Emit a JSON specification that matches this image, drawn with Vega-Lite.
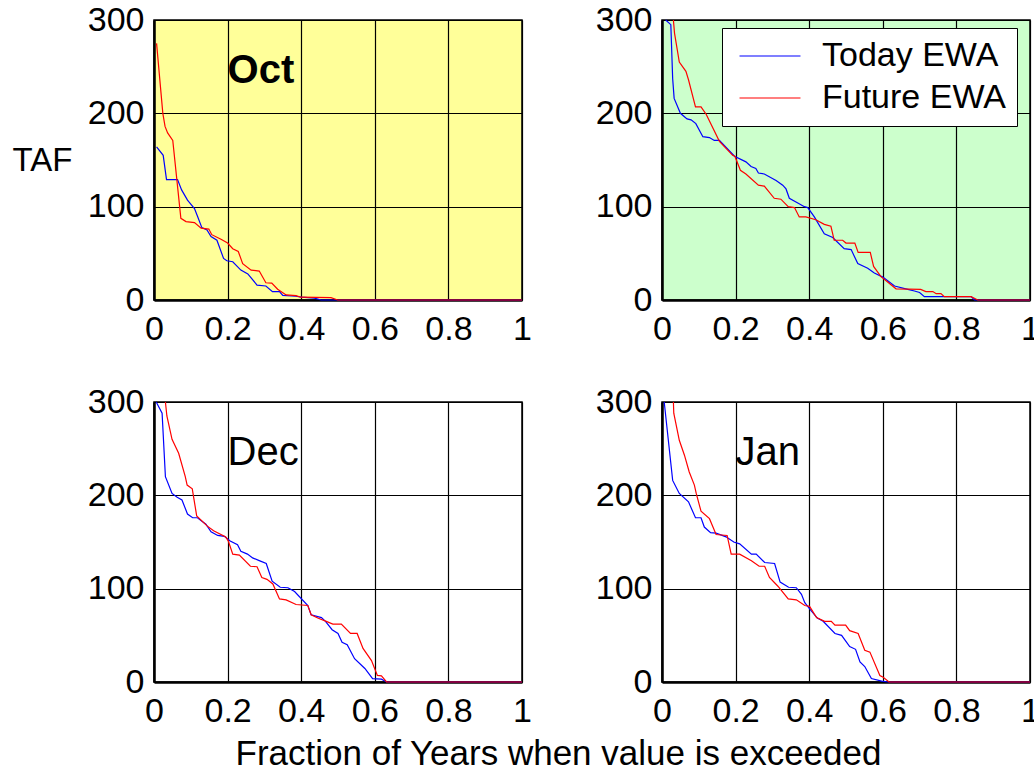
{
  "$schema": "https://vega.github.io/schema/vega-lite/v6.json",
  "background": "white",
  "padding": {"left": 11, "top": 2, "right": 0, "bottom": 0},
  "config": {
    "font": "Liberation Sans",
    "view": {"stroke": "black", "strokeWidth": 1.5},
    "axis": {
      "grid": true, "gridColor": "black", "gridOpacity": 1, "gridWidth": 1.2,
      "domain": true, "domainColor": "black", "domainWidth": 2.5,
      "ticks": false, "tickSize": 0,
      "labelFontSize": 34, "labelColor": "black", "labelPadding": 10,
      "labelFlush": false, "labelBound": false, "labelOverlap": false,
      "title": null
    },
    "axisX": {"labelPadding": 12},
    "line": {"strokeWidth": 1.2, "clip": true}
  },
  "datasets": {
    "ewa": [
      {"m": "Oct", "s": "Today EWA", "x": 0.007, "y": 164},
      {"m": "Oct", "s": "Today EWA", "x": 0.025, "y": 155},
      {"m": "Oct", "s": "Today EWA", "x": 0.034, "y": 129},
      {"m": "Oct", "s": "Today EWA", "x": 0.064, "y": 129},
      {"m": "Oct", "s": "Today EWA", "x": 0.075, "y": 118},
      {"m": "Oct", "s": "Today EWA", "x": 0.091, "y": 107},
      {"m": "Oct", "s": "Today EWA", "x": 0.110, "y": 98},
      {"m": "Oct", "s": "Today EWA", "x": 0.119, "y": 89},
      {"m": "Oct", "s": "Today EWA", "x": 0.130, "y": 77.5},
      {"m": "Oct", "s": "Today EWA", "x": 0.144, "y": 75},
      {"m": "Oct", "s": "Today EWA", "x": 0.155, "y": 68},
      {"m": "Oct", "s": "Today EWA", "x": 0.171, "y": 64},
      {"m": "Oct", "s": "Today EWA", "x": 0.189, "y": 44.6},
      {"m": "Oct", "s": "Today EWA", "x": 0.198, "y": 42},
      {"m": "Oct", "s": "Today EWA", "x": 0.214, "y": 41},
      {"m": "Oct", "s": "Today EWA", "x": 0.236, "y": 32},
      {"m": "Oct", "s": "Today EWA", "x": 0.255, "y": 28},
      {"m": "Oct", "s": "Today EWA", "x": 0.280, "y": 16},
      {"m": "Oct", "s": "Today EWA", "x": 0.304, "y": 15},
      {"m": "Oct", "s": "Today EWA", "x": 0.322, "y": 9},
      {"m": "Oct", "s": "Today EWA", "x": 0.341, "y": 9},
      {"m": "Oct", "s": "Today EWA", "x": 0.350, "y": 5},
      {"m": "Oct", "s": "Today EWA", "x": 0.386, "y": 4},
      {"m": "Oct", "s": "Today EWA", "x": 0.400, "y": 3},
      {"m": "Oct", "s": "Today EWA", "x": 0.436, "y": 2},
      {"m": "Oct", "s": "Today EWA", "x": 0.454, "y": 0},
      {"m": "Oct", "s": "Today EWA", "x": 1.0, "y": 0},

      {"m": "Nov", "s": "Today EWA", "x": 0.010, "y": 300},
      {"m": "Nov", "s": "Today EWA", "x": 0.024, "y": 295},
      {"m": "Nov", "s": "Today EWA", "x": 0.029, "y": 237},
      {"m": "Nov", "s": "Today EWA", "x": 0.033, "y": 216},
      {"m": "Nov", "s": "Today EWA", "x": 0.050, "y": 200},
      {"m": "Nov", "s": "Today EWA", "x": 0.068, "y": 194},
      {"m": "Nov", "s": "Today EWA", "x": 0.079, "y": 193},
      {"m": "Nov", "s": "Today EWA", "x": 0.092, "y": 189},
      {"m": "Nov", "s": "Today EWA", "x": 0.111, "y": 175},
      {"m": "Nov", "s": "Today EWA", "x": 0.129, "y": 174},
      {"m": "Nov", "s": "Today EWA", "x": 0.142, "y": 171},
      {"m": "Nov", "s": "Today EWA", "x": 0.156, "y": 171},
      {"m": "Nov", "s": "Today EWA", "x": 0.197, "y": 154},
      {"m": "Nov", "s": "Today EWA", "x": 0.228, "y": 148},
      {"m": "Nov", "s": "Today EWA", "x": 0.242, "y": 143},
      {"m": "Nov", "s": "Today EWA", "x": 0.255, "y": 141},
      {"m": "Nov", "s": "Today EWA", "x": 0.262, "y": 136},
      {"m": "Nov", "s": "Today EWA", "x": 0.278, "y": 135},
      {"m": "Nov", "s": "Today EWA", "x": 0.310, "y": 128},
      {"m": "Nov", "s": "Today EWA", "x": 0.328, "y": 123},
      {"m": "Nov", "s": "Today EWA", "x": 0.337, "y": 119},
      {"m": "Nov", "s": "Today EWA", "x": 0.346, "y": 109},
      {"m": "Nov", "s": "Today EWA", "x": 0.369, "y": 104},
      {"m": "Nov", "s": "Today EWA", "x": 0.387, "y": 100},
      {"m": "Nov", "s": "Today EWA", "x": 0.396, "y": 99},
      {"m": "Nov", "s": "Today EWA", "x": 0.414, "y": 89},
      {"m": "Nov", "s": "Today EWA", "x": 0.441, "y": 71},
      {"m": "Nov", "s": "Today EWA", "x": 0.464, "y": 67},
      {"m": "Nov", "s": "Today EWA", "x": 0.495, "y": 55},
      {"m": "Nov", "s": "Today EWA", "x": 0.514, "y": 54},
      {"m": "Nov", "s": "Today EWA", "x": 0.532, "y": 39},
      {"m": "Nov", "s": "Today EWA", "x": 0.559, "y": 34},
      {"m": "Nov", "s": "Today EWA", "x": 0.577, "y": 29},
      {"m": "Nov", "s": "Today EWA", "x": 0.600, "y": 24.5},
      {"m": "Nov", "s": "Today EWA", "x": 0.632, "y": 15},
      {"m": "Nov", "s": "Today EWA", "x": 0.668, "y": 11.4},
      {"m": "Nov", "s": "Today EWA", "x": 0.686, "y": 9.6},
      {"m": "Nov", "s": "Today EWA", "x": 0.700, "y": 8},
      {"m": "Nov", "s": "Today EWA", "x": 0.713, "y": 3.6},
      {"m": "Nov", "s": "Today EWA", "x": 0.840, "y": 3.6},
      {"m": "Nov", "s": "Today EWA", "x": 0.849, "y": 0},
      {"m": "Nov", "s": "Today EWA", "x": 1.0, "y": 0},

      {"m": "Dec", "s": "Today EWA", "x": 0.006, "y": 300},
      {"m": "Dec", "s": "Today EWA", "x": 0.022, "y": 288},
      {"m": "Dec", "s": "Today EWA", "x": 0.031, "y": 220},
      {"m": "Dec", "s": "Today EWA", "x": 0.049, "y": 202},
      {"m": "Dec", "s": "Today EWA", "x": 0.063, "y": 198},
      {"m": "Dec", "s": "Today EWA", "x": 0.076, "y": 195},
      {"m": "Dec", "s": "Today EWA", "x": 0.091, "y": 180},
      {"m": "Dec", "s": "Today EWA", "x": 0.105, "y": 176},
      {"m": "Dec", "s": "Today EWA", "x": 0.118, "y": 176},
      {"m": "Dec", "s": "Today EWA", "x": 0.141, "y": 169},
      {"m": "Dec", "s": "Today EWA", "x": 0.155, "y": 161},
      {"m": "Dec", "s": "Today EWA", "x": 0.173, "y": 157},
      {"m": "Dec", "s": "Today EWA", "x": 0.191, "y": 156},
      {"m": "Dec", "s": "Today EWA", "x": 0.207, "y": 151},
      {"m": "Dec", "s": "Today EWA", "x": 0.227, "y": 147},
      {"m": "Dec", "s": "Today EWA", "x": 0.236, "y": 140},
      {"m": "Dec", "s": "Today EWA", "x": 0.254, "y": 137},
      {"m": "Dec", "s": "Today EWA", "x": 0.268, "y": 133},
      {"m": "Dec", "s": "Today EWA", "x": 0.286, "y": 130},
      {"m": "Dec", "s": "Today EWA", "x": 0.305, "y": 127},
      {"m": "Dec", "s": "Today EWA", "x": 0.321, "y": 108},
      {"m": "Dec", "s": "Today EWA", "x": 0.343, "y": 101.5},
      {"m": "Dec", "s": "Today EWA", "x": 0.364, "y": 101},
      {"m": "Dec", "s": "Today EWA", "x": 0.382, "y": 97},
      {"m": "Dec", "s": "Today EWA", "x": 0.418, "y": 82},
      {"m": "Dec", "s": "Today EWA", "x": 0.427, "y": 72},
      {"m": "Dec", "s": "Today EWA", "x": 0.455, "y": 69},
      {"m": "Dec", "s": "Today EWA", "x": 0.466, "y": 65},
      {"m": "Dec", "s": "Today EWA", "x": 0.484, "y": 56},
      {"m": "Dec", "s": "Today EWA", "x": 0.500, "y": 52},
      {"m": "Dec", "s": "Today EWA", "x": 0.511, "y": 42.5},
      {"m": "Dec", "s": "Today EWA", "x": 0.525, "y": 40},
      {"m": "Dec", "s": "Today EWA", "x": 0.545, "y": 25},
      {"m": "Dec", "s": "Today EWA", "x": 0.573, "y": 14.5},
      {"m": "Dec", "s": "Today EWA", "x": 0.594, "y": 3.7},
      {"m": "Dec", "s": "Today EWA", "x": 0.618, "y": 3},
      {"m": "Dec", "s": "Today EWA", "x": 0.632, "y": 0},
      {"m": "Dec", "s": "Today EWA", "x": 1.0, "y": 0},

      {"m": "Jan", "s": "Today EWA", "x": 0.006, "y": 300},
      {"m": "Jan", "s": "Today EWA", "x": 0.029, "y": 216},
      {"m": "Jan", "s": "Today EWA", "x": 0.047, "y": 202},
      {"m": "Jan", "s": "Today EWA", "x": 0.072, "y": 193},
      {"m": "Jan", "s": "Today EWA", "x": 0.091, "y": 176},
      {"m": "Jan", "s": "Today EWA", "x": 0.106, "y": 176},
      {"m": "Jan", "s": "Today EWA", "x": 0.115, "y": 166},
      {"m": "Jan", "s": "Today EWA", "x": 0.132, "y": 160},
      {"m": "Jan", "s": "Today EWA", "x": 0.147, "y": 159.5},
      {"m": "Jan", "s": "Today EWA", "x": 0.174, "y": 155.5},
      {"m": "Jan", "s": "Today EWA", "x": 0.195, "y": 150},
      {"m": "Jan", "s": "Today EWA", "x": 0.211, "y": 148},
      {"m": "Jan", "s": "Today EWA", "x": 0.243, "y": 137},
      {"m": "Jan", "s": "Today EWA", "x": 0.256, "y": 137},
      {"m": "Jan", "s": "Today EWA", "x": 0.279, "y": 128},
      {"m": "Jan", "s": "Today EWA", "x": 0.306, "y": 127},
      {"m": "Jan", "s": "Today EWA", "x": 0.321, "y": 107},
      {"m": "Jan", "s": "Today EWA", "x": 0.344, "y": 101.5},
      {"m": "Jan", "s": "Today EWA", "x": 0.365, "y": 101},
      {"m": "Jan", "s": "Today EWA", "x": 0.379, "y": 94},
      {"m": "Jan", "s": "Today EWA", "x": 0.388, "y": 85},
      {"m": "Jan", "s": "Today EWA", "x": 0.404, "y": 77},
      {"m": "Jan", "s": "Today EWA", "x": 0.422, "y": 68.5},
      {"m": "Jan", "s": "Today EWA", "x": 0.438, "y": 65},
      {"m": "Jan", "s": "Today EWA", "x": 0.470, "y": 52},
      {"m": "Jan", "s": "Today EWA", "x": 0.488, "y": 50},
      {"m": "Jan", "s": "Today EWA", "x": 0.510, "y": 38},
      {"m": "Jan", "s": "Today EWA", "x": 0.526, "y": 35},
      {"m": "Jan", "s": "Today EWA", "x": 0.538, "y": 21.6},
      {"m": "Jan", "s": "Today EWA", "x": 0.551, "y": 16.6},
      {"m": "Jan", "s": "Today EWA", "x": 0.569, "y": 3.7},
      {"m": "Jan", "s": "Today EWA", "x": 0.597, "y": 1},
      {"m": "Jan", "s": "Today EWA", "x": 0.615, "y": 0},
      {"m": "Jan", "s": "Today EWA", "x": 1.0, "y": 0},

      {"m": "Oct", "s": "Future EWA", "x": 0.007, "y": 275},
      {"m": "Oct", "s": "Future EWA", "x": 0.024, "y": 200},
      {"m": "Oct", "s": "Future EWA", "x": 0.030, "y": 186},
      {"m": "Oct", "s": "Future EWA", "x": 0.037, "y": 179},
      {"m": "Oct", "s": "Future EWA", "x": 0.051, "y": 171},
      {"m": "Oct", "s": "Future EWA", "x": 0.073, "y": 87.5},
      {"m": "Oct", "s": "Future EWA", "x": 0.087, "y": 84},
      {"m": "Oct", "s": "Future EWA", "x": 0.110, "y": 83},
      {"m": "Oct", "s": "Future EWA", "x": 0.128, "y": 77},
      {"m": "Oct", "s": "Future EWA", "x": 0.149, "y": 76},
      {"m": "Oct", "s": "Future EWA", "x": 0.157, "y": 70},
      {"m": "Oct", "s": "Future EWA", "x": 0.182, "y": 65},
      {"m": "Oct", "s": "Future EWA", "x": 0.200, "y": 61},
      {"m": "Oct", "s": "Future EWA", "x": 0.214, "y": 55},
      {"m": "Oct", "s": "Future EWA", "x": 0.229, "y": 52},
      {"m": "Oct", "s": "Future EWA", "x": 0.241, "y": 39},
      {"m": "Oct", "s": "Future EWA", "x": 0.264, "y": 32},
      {"m": "Oct", "s": "Future EWA", "x": 0.286, "y": 31},
      {"m": "Oct", "s": "Future EWA", "x": 0.304, "y": 18.5},
      {"m": "Oct", "s": "Future EWA", "x": 0.320, "y": 18},
      {"m": "Oct", "s": "Future EWA", "x": 0.336, "y": 11.5},
      {"m": "Oct", "s": "Future EWA", "x": 0.359, "y": 5.4},
      {"m": "Oct", "s": "Future EWA", "x": 0.386, "y": 4.6},
      {"m": "Oct", "s": "Future EWA", "x": 0.399, "y": 3},
      {"m": "Oct", "s": "Future EWA", "x": 0.481, "y": 2.5},
      {"m": "Oct", "s": "Future EWA", "x": 0.499, "y": 0},
      {"m": "Oct", "s": "Future EWA", "x": 1.0, "y": 0},

      {"m": "Nov", "s": "Future EWA", "x": 0.031, "y": 300},
      {"m": "Nov", "s": "Future EWA", "x": 0.034, "y": 286},
      {"m": "Nov", "s": "Future EWA", "x": 0.047, "y": 255},
      {"m": "Nov", "s": "Future EWA", "x": 0.065, "y": 245},
      {"m": "Nov", "s": "Future EWA", "x": 0.072, "y": 236},
      {"m": "Nov", "s": "Future EWA", "x": 0.091, "y": 207},
      {"m": "Nov", "s": "Future EWA", "x": 0.106, "y": 207},
      {"m": "Nov", "s": "Future EWA", "x": 0.120, "y": 199},
      {"m": "Nov", "s": "Future EWA", "x": 0.156, "y": 170},
      {"m": "Nov", "s": "Future EWA", "x": 0.192, "y": 155},
      {"m": "Nov", "s": "Future EWA", "x": 0.198, "y": 154},
      {"m": "Nov", "s": "Future EWA", "x": 0.213, "y": 139},
      {"m": "Nov", "s": "Future EWA", "x": 0.228, "y": 135},
      {"m": "Nov", "s": "Future EWA", "x": 0.262, "y": 123},
      {"m": "Nov", "s": "Future EWA", "x": 0.278, "y": 122},
      {"m": "Nov", "s": "Future EWA", "x": 0.305, "y": 109},
      {"m": "Nov", "s": "Future EWA", "x": 0.323, "y": 108},
      {"m": "Nov", "s": "Future EWA", "x": 0.343, "y": 100},
      {"m": "Nov", "s": "Future EWA", "x": 0.360, "y": 99},
      {"m": "Nov", "s": "Future EWA", "x": 0.373, "y": 89},
      {"m": "Nov", "s": "Future EWA", "x": 0.391, "y": 89},
      {"m": "Nov", "s": "Future EWA", "x": 0.418, "y": 86},
      {"m": "Nov", "s": "Future EWA", "x": 0.441, "y": 81},
      {"m": "Nov", "s": "Future EWA", "x": 0.459, "y": 79},
      {"m": "Nov", "s": "Future EWA", "x": 0.468, "y": 64},
      {"m": "Nov", "s": "Future EWA", "x": 0.491, "y": 64},
      {"m": "Nov", "s": "Future EWA", "x": 0.500, "y": 61},
      {"m": "Nov", "s": "Future EWA", "x": 0.524, "y": 61},
      {"m": "Nov", "s": "Future EWA", "x": 0.533, "y": 51},
      {"m": "Nov", "s": "Future EWA", "x": 0.566, "y": 51},
      {"m": "Nov", "s": "Future EWA", "x": 0.575, "y": 36},
      {"m": "Nov", "s": "Future EWA", "x": 0.595, "y": 25},
      {"m": "Nov", "s": "Future EWA", "x": 0.636, "y": 12},
      {"m": "Nov", "s": "Future EWA", "x": 0.703, "y": 11.4},
      {"m": "Nov", "s": "Future EWA", "x": 0.717, "y": 9},
      {"m": "Nov", "s": "Future EWA", "x": 0.736, "y": 9},
      {"m": "Nov", "s": "Future EWA", "x": 0.745, "y": 6.8},
      {"m": "Nov", "s": "Future EWA", "x": 0.758, "y": 6.8},
      {"m": "Nov", "s": "Future EWA", "x": 0.767, "y": 3.6},
      {"m": "Nov", "s": "Future EWA", "x": 0.840, "y": 3.6},
      {"m": "Nov", "s": "Future EWA", "x": 0.858, "y": 0},
      {"m": "Nov", "s": "Future EWA", "x": 1.0, "y": 0},

      {"m": "Dec", "s": "Future EWA", "x": 0.031, "y": 300},
      {"m": "Dec", "s": "Future EWA", "x": 0.035, "y": 285},
      {"m": "Dec", "s": "Future EWA", "x": 0.049, "y": 260},
      {"m": "Dec", "s": "Future EWA", "x": 0.067, "y": 245},
      {"m": "Dec", "s": "Future EWA", "x": 0.085, "y": 220},
      {"m": "Dec", "s": "Future EWA", "x": 0.090, "y": 211},
      {"m": "Dec", "s": "Future EWA", "x": 0.104, "y": 207},
      {"m": "Dec", "s": "Future EWA", "x": 0.116, "y": 178},
      {"m": "Dec", "s": "Future EWA", "x": 0.145, "y": 167},
      {"m": "Dec", "s": "Future EWA", "x": 0.162, "y": 162},
      {"m": "Dec", "s": "Future EWA", "x": 0.195, "y": 155.5},
      {"m": "Dec", "s": "Future EWA", "x": 0.202, "y": 151},
      {"m": "Dec", "s": "Future EWA", "x": 0.214, "y": 137},
      {"m": "Dec", "s": "Future EWA", "x": 0.232, "y": 136},
      {"m": "Dec", "s": "Future EWA", "x": 0.262, "y": 124},
      {"m": "Dec", "s": "Future EWA", "x": 0.280, "y": 123.5},
      {"m": "Dec", "s": "Future EWA", "x": 0.293, "y": 112},
      {"m": "Dec", "s": "Future EWA", "x": 0.307, "y": 110},
      {"m": "Dec", "s": "Future EWA", "x": 0.323, "y": 105},
      {"m": "Dec", "s": "Future EWA", "x": 0.341, "y": 89},
      {"m": "Dec", "s": "Future EWA", "x": 0.359, "y": 88},
      {"m": "Dec", "s": "Future EWA", "x": 0.386, "y": 83},
      {"m": "Dec", "s": "Future EWA", "x": 0.418, "y": 82},
      {"m": "Dec", "s": "Future EWA", "x": 0.427, "y": 72},
      {"m": "Dec", "s": "Future EWA", "x": 0.445, "y": 68.5},
      {"m": "Dec", "s": "Future EWA", "x": 0.468, "y": 65},
      {"m": "Dec", "s": "Future EWA", "x": 0.486, "y": 62},
      {"m": "Dec", "s": "Future EWA", "x": 0.509, "y": 62},
      {"m": "Dec", "s": "Future EWA", "x": 0.534, "y": 52},
      {"m": "Dec", "s": "Future EWA", "x": 0.552, "y": 52},
      {"m": "Dec", "s": "Future EWA", "x": 0.568, "y": 36},
      {"m": "Dec", "s": "Future EWA", "x": 0.591, "y": 23},
      {"m": "Dec", "s": "Future EWA", "x": 0.607, "y": 7},
      {"m": "Dec", "s": "Future EWA", "x": 0.618, "y": 6.5},
      {"m": "Dec", "s": "Future EWA", "x": 0.632, "y": 0},
      {"m": "Dec", "s": "Future EWA", "x": 1.0, "y": 0},

      {"m": "Jan", "s": "Future EWA", "x": 0.031, "y": 300},
      {"m": "Jan", "s": "Future EWA", "x": 0.032, "y": 288},
      {"m": "Jan", "s": "Future EWA", "x": 0.047, "y": 259},
      {"m": "Jan", "s": "Future EWA", "x": 0.061, "y": 243},
      {"m": "Jan", "s": "Future EWA", "x": 0.074, "y": 225},
      {"m": "Jan", "s": "Future EWA", "x": 0.088, "y": 211},
      {"m": "Jan", "s": "Future EWA", "x": 0.093, "y": 202},
      {"m": "Jan", "s": "Future EWA", "x": 0.106, "y": 183},
      {"m": "Jan", "s": "Future EWA", "x": 0.129, "y": 175},
      {"m": "Jan", "s": "Future EWA", "x": 0.147, "y": 158},
      {"m": "Jan", "s": "Future EWA", "x": 0.177, "y": 157},
      {"m": "Jan", "s": "Future EWA", "x": 0.188, "y": 137},
      {"m": "Jan", "s": "Future EWA", "x": 0.211, "y": 137},
      {"m": "Jan", "s": "Future EWA", "x": 0.243, "y": 130},
      {"m": "Jan", "s": "Future EWA", "x": 0.264, "y": 124},
      {"m": "Jan", "s": "Future EWA", "x": 0.279, "y": 124},
      {"m": "Jan", "s": "Future EWA", "x": 0.292, "y": 112},
      {"m": "Jan", "s": "Future EWA", "x": 0.315, "y": 102.6},
      {"m": "Jan", "s": "Future EWA", "x": 0.343, "y": 89},
      {"m": "Jan", "s": "Future EWA", "x": 0.365, "y": 88},
      {"m": "Jan", "s": "Future EWA", "x": 0.388, "y": 82},
      {"m": "Jan", "s": "Future EWA", "x": 0.401, "y": 81},
      {"m": "Jan", "s": "Future EWA", "x": 0.420, "y": 69},
      {"m": "Jan", "s": "Future EWA", "x": 0.442, "y": 65},
      {"m": "Jan", "s": "Future EWA", "x": 0.460, "y": 65},
      {"m": "Jan", "s": "Future EWA", "x": 0.470, "y": 61},
      {"m": "Jan", "s": "Future EWA", "x": 0.499, "y": 61},
      {"m": "Jan", "s": "Future EWA", "x": 0.510, "y": 55},
      {"m": "Jan", "s": "Future EWA", "x": 0.533, "y": 52},
      {"m": "Jan", "s": "Future EWA", "x": 0.551, "y": 34},
      {"m": "Jan", "s": "Future EWA", "x": 0.565, "y": 32},
      {"m": "Jan", "s": "Future EWA", "x": 0.592, "y": 7},
      {"m": "Jan", "s": "Future EWA", "x": 0.601, "y": 5},
      {"m": "Jan", "s": "Future EWA", "x": 0.617, "y": 0},
      {"m": "Jan", "s": "Future EWA", "x": 1.0, "y": 0}
    ]
  },
  "columns": 2,
  "spacing": {"row": 102, "column": 140},
  "bounds": "flush",
  "resolve": {"scale": {"color": "independent"}, "legend": {"color": "independent"}},
  "concat": [
    {
      "width": 368, "height": 280,
      "view": {"fill": "#FFFF99"},
      "layer": [
        {
          "data": {"name": "ewa"},
          "transform": [{"filter": "datum.m === 'Oct'"}],
          "mark": "line",
          "encoding": {
            "x": {"field": "x", "type": "quantitative", "scale": {"domain": [0, 1], "nice": false},
                  "axis": {"values": [0, 0.2, 0.4, 0.6, 0.8, 1], "format": "~g"}},
            "y": {"field": "y", "type": "quantitative", "scale": {"domain": [0, 300], "nice": false},
                  "axis": {"values": [0, 100, 200, 300],
                           "title": "TAF", "titleAngle": 0, "titleFontSize": 33, "titleFontWeight": "normal",
                           "titleColor": "black", "titleAlign": "left", "titleBaseline": "middle",
                           "titleX": -142, "titleY": 140}},
            "color": {"field": "s", "type": "nominal", "legend": null,
                      "scale": {"domain": ["Today EWA", "Future EWA"], "range": ["#0000ff", "#ff0000"]}}
          }
        },
        {
          "data": {"values": [{}]},
          "mark": {"type": "text", "fontSize": 40, "fontWeight": "bold", "align": "left", "baseline": "alphabetic", "color": "black"},
          "encoding": {"x": {"datum": 0.2}, "y": {"datum": 233}, "text": {"value": "Oct"}}
        }
      ]
    },
    {
      "width": 368, "height": 280,
      "view": {"fill": "#CCFFCC"},
      "data": {"name": "ewa"},
      "transform": [{"filter": "datum.m === 'Nov'"}],
      "mark": "line",
      "encoding": {
        "x": {"field": "x", "type": "quantitative", "scale": {"domain": [0, 1], "nice": false},
              "axis": {"values": [0, 0.2, 0.4, 0.6, 0.8, 1], "format": "~g"}},
        "y": {"field": "y", "type": "quantitative", "scale": {"domain": [0, 300], "nice": false},
              "axis": {"values": [0, 100, 200, 300]}},
        "color": {"field": "s", "type": "nominal",
                  "scale": {"domain": ["Today EWA", "Future EWA"], "range": ["#0000ff", "#ff0000"]},
                  "legend": {"orient": "none", "legendX": 60, "legendY": 8, "title": null,
                             "symbolType": "M-3,0H3", "symbolSize": 413, "symbolStrokeWidth": 1.2,
                             "symbolOffset": 20, "labelOffset": 35,
                             "labelFontSize": 34, "labelColor": "black", "labelLimit": 400,
                             "rowPadding": 8, "padding": 11,
                             "strokeColor": "black", "fillColor": "white"}}
      }
    },
    {
      "width": 368, "height": 280,
      "view": {"fill": "white"},
      "layer": [
        {
          "data": {"name": "ewa"},
          "transform": [{"filter": "datum.m === 'Dec'"}],
          "mark": "line",
          "encoding": {
            "x": {"field": "x", "type": "quantitative", "scale": {"domain": [0, 1], "nice": false},
                  "axis": {"values": [0, 0.2, 0.4, 0.6, 0.8, 1], "format": "~g",
                           "title": "Fraction of Years when value is exceeded", "titleFontSize": 35,
                           "titleFontWeight": "normal", "titleColor": "black", "titleAlign": "center",
                           "titleBaseline": "alphabetic", "titleX": 404, "titleY": 82}},
            "y": {"field": "y", "type": "quantitative", "scale": {"domain": [0, 300], "nice": false},
                  "axis": {"values": [0, 100, 200, 300]}},
            "color": {"field": "s", "type": "nominal", "legend": null,
                      "scale": {"domain": ["Today EWA", "Future EWA"], "range": ["#0000ff", "#ff0000"]}}
          }
        },
        {
          "data": {"values": [{}]},
          "mark": {"type": "text", "fontSize": 40, "align": "left", "baseline": "alphabetic", "color": "black"},
          "encoding": {"x": {"datum": 0.2}, "y": {"datum": 233}, "text": {"value": "Dec"}}
        }
      ]
    },
    {
      "width": 368, "height": 280,
      "view": {"fill": "white"},
      "layer": [
        {
          "data": {"name": "ewa"},
          "transform": [{"filter": "datum.m === 'Jan'"}],
          "mark": "line",
          "encoding": {
            "x": {"field": "x", "type": "quantitative", "scale": {"domain": [0, 1], "nice": false},
                  "axis": {"values": [0, 0.2, 0.4, 0.6, 0.8, 1], "format": "~g"}},
            "y": {"field": "y", "type": "quantitative", "scale": {"domain": [0, 300], "nice": false},
                  "axis": {"values": [0, 100, 200, 300]}},
            "color": {"field": "s", "type": "nominal", "legend": null,
                      "scale": {"domain": ["Today EWA", "Future EWA"], "range": ["#0000ff", "#ff0000"]}}
          }
        },
        {
          "data": {"values": [{}]},
          "mark": {"type": "text", "fontSize": 40, "align": "left", "baseline": "alphabetic", "color": "black"},
          "encoding": {"x": {"datum": 0.2}, "y": {"datum": 233}, "text": {"value": "Jan"}}
        }
      ]
    }
  ]
}
